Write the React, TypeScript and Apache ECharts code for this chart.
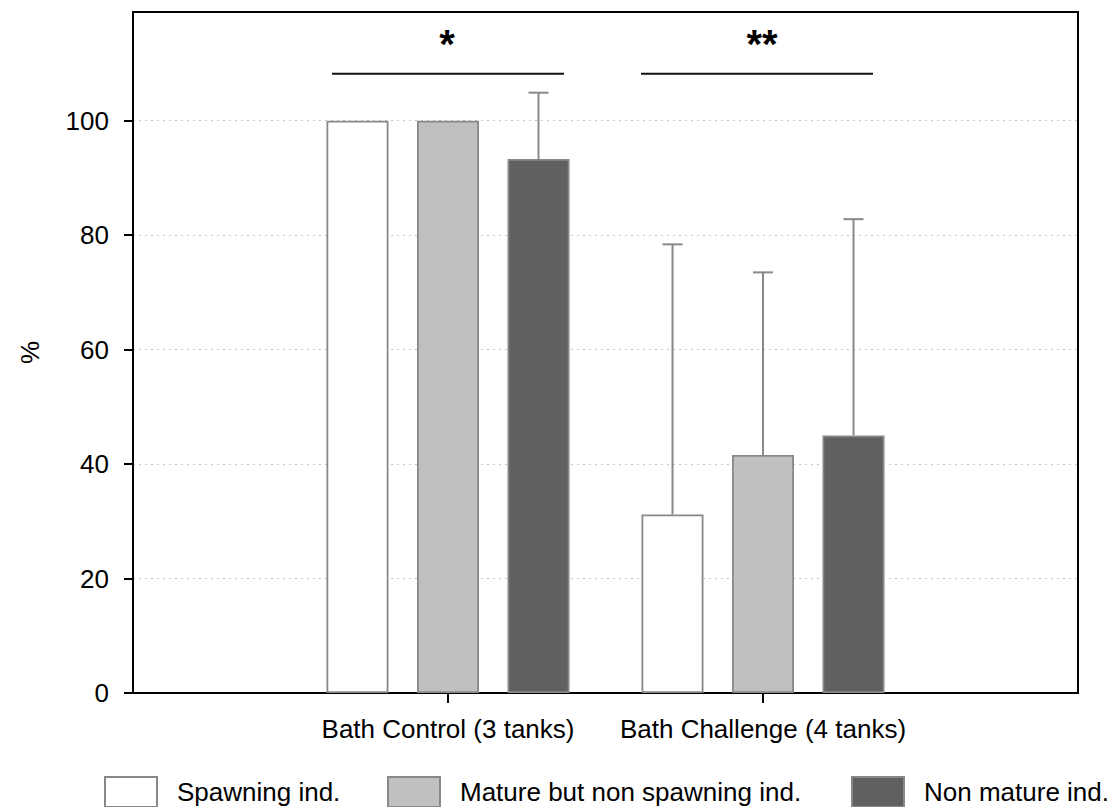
import React, { useEffect, useRef } from 'react';
import * as echarts from 'echarts';

// ---- data ----
const categories = ['', 'Bath Control (3 tanks)', 'Bath Challenge (4 tanks)', ''];
const seriesNames = ['Spawning ind.', 'Mature but non spawning ind.', 'Non mature ind.'];
const spawning = ['-', 100, 31.2, '-'];
const matureNonSpawning = ['-', 100, 41.6, '-'];
const nonMature = ['-', 93.3, 45.0, '-'];
// upper end of error bars (null = none)
const spawningErr = [null, null, 78.4, null];
const matureNonSpawningErr = [null, null, 73.5, null];
const nonMatureErr = [null, 104.9, 82.8, null];
const yTicks = [0, 20, 40, 60, 80, 100];
const sigCategories = [1, 2];
const sigLabels = ['*', '**'];
const sigLineValue = 108.2;
const sigTextValue = 113.4;

// ---- style ----
const FONT = 'Liberation Sans, Arial, Helvetica, sans-serif';
const colors = ['#ffffff', '#c0c0c0', '#606060'];
const BAR_W = 62;
const BAR_STEP = 90.5;
const legendLeft = [104, 387, 851];
const sigLineShift = [0, -6];

export default function App() {
  const ref = useRef<HTMLDivElement>(null);

  useEffect(() => {
    if (!ref.current) return;
    const chart = echarts.init(ref.current, null, { renderer: 'svg' });

    const values = [spawning, matureNonSpawning, nonMature];
    const errs = [spawningErr, matureNonSpawningErr, nonMatureErr];

    const barSeries = seriesNames.map((name, i) => ({
      name,
      type: 'bar',
      data: values[i],
      barWidth: BAR_W,
      barGap: ((BAR_STEP - BAR_W) / BAR_W * 100).toFixed(1) + '%',
      itemStyle: { color: colors[i], borderColor: '#888888', borderWidth: 1.8 },
      z: 2,
    }));

    const errSeries = seriesNames.map((name, i) => {
      const data: any[] = [];
      errs[i].forEach((e, ci) => {
        if (e != null) data.push([ci, e, values[i][ci]]);
      });
      const offset = (i - 1) * BAR_STEP;
      return {
        type: 'custom',
        name: name + ' err',
        data,
        z: 3,
        silent: true,
        renderItem: (params: any, api: any) => {
          const x = api.value(0);
          const top = api.coord([x, api.value(1)]);
          const base = api.coord([x, api.value(2)]);
          const cx = top[0] + offset;
          return {
            type: 'group',
            children: [
              { type: 'line', shape: { x1: cx, y1: base[1], x2: cx, y2: top[1] }, style: { stroke: '#888888', lineWidth: 2 } },
              { type: 'line', shape: { x1: cx - 10, y1: top[1], x2: cx + 10, y2: top[1] }, style: { stroke: '#888888', lineWidth: 2 } },
            ],
          };
        },
      };
    });

    const sigSeries = {
      type: 'custom',
      name: 'significance',
      data: sigCategories.map((c) => [c, sigLineValue, sigTextValue]),
      z: 4,
      silent: true,
      renderItem: (params: any, api: any) => {
        const x = api.value(0);
        const l = api.coord([x, api.value(1)]);
        const t = api.coord([x, api.value(2)]);
        const cx = l[0] + sigLineShift[params.dataIndex];
        return {
          type: 'group',
          children: [
            { type: 'line', shape: { x1: cx - 116, y1: l[1], x2: cx + 116, y2: l[1] }, style: { stroke: '#111', lineWidth: 2 } },
            {
              type: 'text',
              x: t[0] - 1,
              y: t[1],
              style: { text: sigLabels[params.dataIndex], fontSize: 40, fontWeight: 'bold', fontFamily: FONT, fill: '#000', align: 'center', verticalAlign: 'middle' },
            },
          ],
        };
      },
    };

    chart.setOption({
      animation: false,
      backgroundColor: '#ffffff',
      textStyle: { fontFamily: FONT },
      grid: { left: 133, right: 37, top: 12, bottom: 114, show: true, borderColor: '#000', borderWidth: 2, containLabel: false },
      legend: seriesNames.map((name, i) => ({
        data: [name],
        left: legendLeft[i],
        top: 776,
        padding: 0,
        itemWidth: 52,
        itemHeight: 30,
        itemGap: 0,
        icon: 'rect',
        selectedMode: false,
        textStyle: { fontSize: 26, color: '#000', fontFamily: FONT, padding: [0, 0, 0, 15] },
      })),
      xAxis: {
        type: 'category',
        data: categories,
        boundaryGap: false,
        axisLine: { lineStyle: { color: '#000', width: 2 } },
        axisTick: { interval: (i: number) => i === 1 || i === 2, length: 10, lineStyle: { color: '#000', width: 2 } },
        axisLabel: { interval: 0, fontSize: 26, color: '#000', margin: 23, fontFamily: FONT },
        splitLine: { show: false },
      },
      yAxis: {
        type: 'value',
        min: 0,
        max: 119,
        interval: 20,
        name: '%',
        nameLocation: 'middle',
        nameGap: 90,
        nameRotate: 90,
        nameTextStyle: { fontSize: 26, color: '#000', fontFamily: FONT },
        axisLine: { show: true, lineStyle: { color: '#000', width: 2 } },
        axisTick: { show: true, length: 9, customValues: yTicks, lineStyle: { color: '#000', width: 2 } },
        axisLabel: { fontSize: 26, color: '#000', margin: 24, customValues: yTicks, fontFamily: FONT },
        splitLine: { show: true, lineStyle: { color: '#c4c4c4', type: [2, 4], width: 1 } },
      },
      series: [...barSeries, ...errSeries, sigSeries],
    });

    return () => chart.dispose();
  }, []);

  return <div ref={ref} style={{ position: 'fixed', left: 0, top: 0, width: 1115, height: 807, background: '#fff' }} />;
}
